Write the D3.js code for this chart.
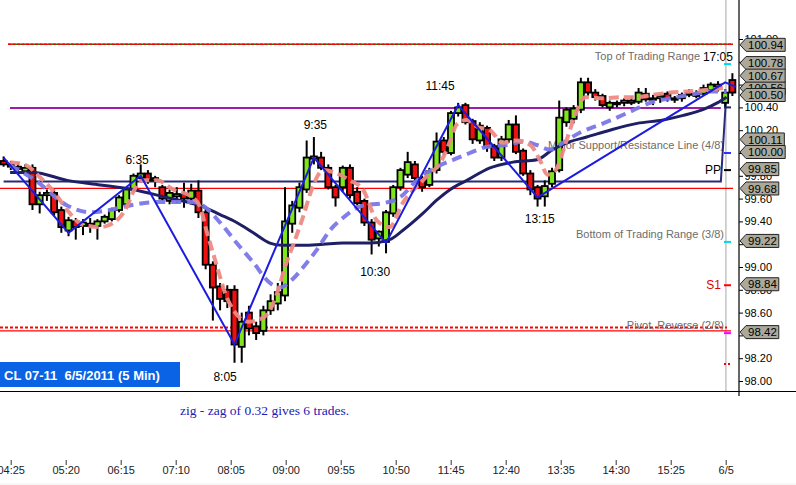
<!DOCTYPE html>
<html>
<head>
<meta charset="utf-8">
<script src="https://cdn.jsdelivr.net/npm/d3@7"></script>
<style>
  body { margin: 0; background: #fff; }
  svg { display: block; font-family: "Liberation Sans", Arial, sans-serif; }
</style>
</head>
<body>
<div class="chart"></div>
<script>
"use strict";

// DATA ----------------------------
// 5 min candles, CL 07-11
const opens = [99.93,99.90,99.86,99.84,99.87,99.55,99.63,99.65,99.50,99.32, 99.40,99.36,99.38,99.36,99.40,99.42,99.50,99.55,99.68,99.78,
  99.82,99.76,99.70,99.58,99.62,99.64,99.60,99.67,99.48,99.02, 98.83,98.80,98.80,98.30,98.60,98.48,98.44,98.62,98.68,98.75,
  99.38,99.52,99.68,99.95,99.96,99.87,99.70,99.70,99.87,99.66, 99.58,99.39,99.25,99.22,99.47,99.70,99.81,99.90,99.78,99.72,
  99.85,100.11,100.00,100.35,100.42,100.28,100.11,100.22,100.06,99.96, 100.12,100.25,100.02,99.82,99.70,99.62,99.73,99.85,100.27,100.30,
  100.38,100.62,100.53,100.50,100.40,100.43,100.44,100.46,100.45,100.52, 100.47,100.48,100.52,100.48,100.48,100.51,100.52,100.52,100.55,100.58,
  100.44,100.64];
const highs = [99.97,99.93,99.92,99.90,99.90,99.66,99.68,99.68,99.53,99.44, 99.43,99.42,99.43,99.42,99.46,99.52,99.63,99.70,99.82,99.90,
  99.85,99.80,99.72,99.68,99.70,99.74,99.73,99.76,99.52,99.05, 98.86,98.84,98.84,98.60,98.66,98.52,98.66,98.76,98.86,99.70,
  99.58,99.74,100.11,100.14,100.01,99.90,99.72,99.89,99.90,99.70, 99.60,99.42,99.32,99.50,99.72,99.87,100.01,99.93,99.80,99.87,
  100.18,100.14,100.37,100.44,100.44,100.30,100.27,100.24,100.08,100.15, 100.29,100.33,100.04,99.85,99.72,99.76,99.87,100.46,100.40,100.42,
  100.66,100.66,100.56,100.52,100.46,100.46,100.48,100.50,100.57,100.57, 100.51,100.52,100.54,100.50,100.53,100.56,100.55,100.60,100.62,100.63,
  100.56,100.70];
const lows = [99.88,99.85,99.84,99.82,99.50,99.47,99.58,99.45,99.30,99.27, 99.24,99.28,99.30,99.24,99.38,99.40,99.48,99.53,99.66,99.75,
  99.73,99.70,99.58,99.55,99.56,99.52,99.55,99.43,98.98,98.53, 98.62,98.64,98.16,98.16,98.40,98.36,98.40,98.58,98.62,98.70,
  99.30,99.48,99.65,99.90,99.85,99.68,99.53,99.66,99.60,99.54, 99.36,99.11,99.18,99.12,99.44,99.67,99.78,99.74,99.66,99.70,
  99.82,99.98,99.98,100.32,100.25,100.08,100.08,100.01,99.93,99.93, 100.09,99.99,99.80,99.63,99.53,99.53,99.70,99.83,100.23,100.26,
  100.35,100.50,100.46,100.40,100.37,100.40,100.41,100.42,100.43,100.45, 100.42,100.44,100.45,100.44,100.45,100.49,100.48,100.50,100.53,100.54,
  100.40,100.50];
const closes = [99.90,99.88,99.88,99.87,99.55,99.63,99.65,99.48,99.35,99.41, 99.35,99.39,99.36,99.40,99.44,99.50,99.61,99.68,99.80,99.82,
  99.76,99.78,99.60,99.65,99.64,99.60,99.67,99.48,99.02,98.82, 98.72,98.70,98.32,98.52,98.46,98.42,98.62,98.70,98.78,99.40,
  99.54,99.70,99.96,99.97,99.87,99.70,99.61,99.87,99.63,99.56, 99.39,99.24,99.31,99.48,99.70,99.85,99.92,99.78,99.70,99.84,
  100.10,100.01,100.35,100.40,100.27,100.12,100.24,100.05,99.96,100.12, 100.25,100.01,99.82,99.68,99.60,99.71,99.84,100.31,100.38,100.39,
  100.62,100.53,100.49,100.42,100.44,100.44,100.46,100.44,100.53,100.47, 100.48,100.50,100.48,100.47,100.51,100.53,100.50,100.57,100.60,100.60,
  100.53,100.53];

// moving averages, read at bar positions
const fastIdx = [0.9,3.2,5.0,7.1,8.8,11.0,13.4,15.7,17.1,17.9,19.3,21.3,23.5,26.2,27.2,28.2,29.6,30.7,32.1,33.9,35.5,36.9,37.9,39.0,40.4,41.5,42.7,44.3,46.2,48.0,
  49.8,51.7,53.5,55.3,58.1,60.9,61.9,62.8,64.2,65.6,67.4,69.2,71.1,73.0,74.3,75.4,76.5,77.8,79.2,80.6,83.1,85.4,87.8,90.0,92.4,94.7,96.9,99.7];
const fastVal = [99.92,99.89,99.79,99.65,99.50,99.37,99.35,99.41,99.53,99.65,99.76,99.76,99.68,99.61,99.53,99.30,99.00,98.77,98.60,98.52,98.54,98.62,98.77,99.00,99.24,99.44,99.68,99.85,99.82,99.76,
  99.68,99.41,99.35,99.56,99.76,99.96,100.11,100.25,100.29,100.23,100.20,100.09,100.11,100.07,99.94,99.81,99.85,100.07,100.33,100.49,100.48,100.49,100.49,100.51,100.53,100.54,100.55,100.57];
const midIdx = [0.9,4.4,8.8,12.0,14.7,17.5,21.3,26.2,27.6,30.0,32.3,34.6,36.9,38.3,40.0,41.8,43.4,45.2,47.0,49.8,
  52.6,54.9,57.3,60.1,62.3,64.6,67.4,69.8,72.0,73.9,75.7,77.5,79.9,83.1,86.4,89.6,92.4,95.1,97.9,100.2];
const midVal = [99.89,99.76,99.54,99.48,99.50,99.54,99.57,99.57,99.54,99.39,99.21,99.04,98.86,98.82,98.89,99.02,99.15,99.32,99.43,99.54,
  99.56,99.61,99.76,99.88,99.94,100.00,100.06,100.07,100.10,100.07,100.03,100.09,100.18,100.26,100.35,100.44,100.48,100.51,100.54,100.54];
const slowIdx = [0.9,4.1,8.8,13.4,17.9,22.6,25.4,27.6,30.0,32.3,34.6,36.9,38.7,41.5,44.3,47.0,50.8,53.5,
  55.3,58.1,60.1,61.9,64.2,67.4,70.6,73.9,76.1,78.5,80.8,84.0,87.8,91.4,94.2,96.9,98.9,100.2];
const slowVal = [99.83,99.83,99.76,99.72,99.68,99.61,99.57,99.53,99.46,99.39,99.30,99.21,99.19,99.19,99.20,99.21,99.21,99.24,
  99.32,99.47,99.59,99.68,99.76,99.87,99.92,99.94,100.03,100.10,100.14,100.20,100.26,100.29,100.33,100.38,100.44,100.49];

// zig-zag
const zzIdx = [0, 9, 19, 32, 43, 53, 63, 74, 100, 101.5];
const zzVal = [99.96, 99.30, 99.80, 98.32, 99.96, 99.21, 100.42, 99.61, 100.62, 100.58];

// swing labels
const swingNames = ["6:35", "8:05", "9:35", "10:30", "11:45", "13:15", "17:05"];
const swingIdx = [18.5, 30.7, 43.2, 51.5, 60.5, 74.3, 99.0];
const swingPrice = [99.94, 98.04, 100.25, 98.96, 100.59, 99.42, 100.84];

// step line (prior close)
const stepIdx = [0, 99.4, 100.1];
const stepVal = [99.75, 99.75, 100.46];

// horizontal levels
const hLinePrices = [100.955, 100.395, 99.69, 98.47, 98.44];

// murray math texts
const levelTexts = ["Top of Trading Range", "Major Support/Resistance Line (4/8)", "Bottom of Trading Range (3/8)", "Pivot, Reverse (2/8)"];
const levelPrices = [100.78, 100.00, 99.22, 98.42];

// pivot texts
const pivotTexts = ["PP", "S1"];
const pivotPrices = [99.85, 98.84];

// small markers at right
const markerPrices = [100.78, 100.40, 100.00, 99.85, 99.22, 98.84, 98.42, 98.15];

// price tags on axis
const tagValues = [100.56, 100.94, 100.78, 100.67, 100.50, 100.11, 100.00, 99.85, 99.68, 99.22, 98.84, 98.42];

// bottom time axis
const timeTicks = ["04:25", "05:20", "06:15", "07:10", "08:05", "09:00", "09:55", "10:50", "11:45", "12:40", "13:35", "14:30", "15:25", "6/5"];

const cursorIdx = 100.1;

// CHART INIT ----------------------------
const W = 796, H = 485;
const AXIS_X = 739;

const svg = d3.select(".chart").append("svg")
  .attr("width", W).attr("height", H);

const x = d3.scaleLinear().domain([-0.5, opens.length - 0.5]).range([0, 736]);
const y = d3.scaleLinear().domain([98, 101]).range([381, 39]);

const candles = opens.map((o, i) => ({ i, o, h: highs[i], l: lows[i], c: closes[i] }));
const pts = (xs, vs) => xs.map((d, i) => [d, vs[i]]);

const line = d3.line().x((d) => x(d[0])).y((d) => y(d[1]));
const smooth = d3.line().x((d) => x(d[0])).y((d) => y(d[1])).curve(d3.curveMonotoneX);

// gray cursor line
svg.append("line")
  .attr("x1", x(cursorIdx)).attr("x2", x(cursorIdx))
  .attr("y1", 0).attr("y2", 392)
  .attr("stroke", "#c4c4c4").attr("stroke-width", 1.5);

// horizontal levels
const hl = svg.append("g").attr("class", "levels");
// top dotted (green under red)
hl.append("line").attr("x1", 8).attr("x2", 733)
  .attr("y1", y(hLinePrices[0])).attr("y2", y(hLinePrices[0]))
  .attr("stroke", "#3c6a10").attr("stroke-width", 1.5);
hl.append("line").attr("x1", 8).attr("x2", 733)
  .attr("y1", y(hLinePrices[0])).attr("y2", y(hLinePrices[0]))
  .attr("stroke", "#ff0000").attr("stroke-width", 1.5).attr("stroke-dasharray", "3,1.5");
hl.append("line").attr("x1", 10).attr("x2", x(99.4))
  .attr("y1", y(hLinePrices[1])).attr("y2", y(hLinePrices[1]))
  .attr("stroke", "#a01ca8").attr("stroke-width", 2);
hl.append("line").attr("x1", 0).attr("x2", 733)
  .attr("y1", y(hLinePrices[2])).attr("y2", y(hLinePrices[2]))
  .attr("stroke", "#ff0000").attr("stroke-width", 1.2);
hl.append("line").attr("x1", 0).attr("x2", 727)
  .attr("y1", y(hLinePrices[3])).attr("y2", y(hLinePrices[3]))
  .attr("stroke", "#ff0000").attr("stroke-width", 2).attr("stroke-dasharray", "3,2");
hl.append("line").attr("x1", 0).attr("x2", 731)
  .attr("y1", y(hLinePrices[4])).attr("y2", y(hLinePrices[4]))
  .attr("stroke", "#ff0000").attr("stroke-width", 1.2);

// murray texts (under candles)
svg.append("g").selectAll("text")
  .data(levelTexts).join("text")
  .attr("x", (d, i) => (i === 0 ? 700 : 724))
  .attr("y", (d, i) => y(levelPrices[i]) - 4)
  .attr("text-anchor", "end")
  .attr("font-size", 11)
  .attr("fill", "#6c6c6c")
  .text((d) => d);

// step line
svg.append("path")
  .attr("d", line(pts(stepIdx, stepVal)))
  .attr("fill", "none").attr("stroke", "#2a2a78").attr("stroke-width", 2);

// candles
const cg = svg.append("g").attr("class", "candles")
  .selectAll("g").data(candles).join("g");
cg.append("line")
  .attr("x1", (d) => x(d.i)).attr("x2", (d) => x(d.i))
  .attr("y1", (d) => y(d.h)).attr("y2", (d) => y(d.l))
  .attr("stroke", "#000").attr("stroke-width", 2);
cg.append("rect")
  .attr("x", (d) => x(d.i) - 3)
  .attr("width", 6)
  .attr("y", (d) => y(Math.max(d.o, d.c)))
  .attr("height", (d) => Math.max(1.5, Math.abs(y(d.o) - y(d.c))))
  .attr("fill", (d) => (d.c >= d.o ? "#7fe61c" : "#ee1010"))
  .attr("stroke", "#000").attr("stroke-width", 1.8);

// moving averages
svg.append("path").attr("d", smooth(pts(slowIdx, slowVal)))
  .attr("fill", "none").attr("stroke", "#1f1f66").attr("stroke-width", 3);
svg.append("path").attr("d", smooth(pts(midIdx, midVal)))
  .attr("fill", "none").attr("stroke", "#7a76e8").attr("stroke-width", 4)
  .attr("stroke-dasharray", "10,6").attr("opacity", 0.95);
svg.append("path").attr("d", smooth(pts(fastIdx, fastVal)))
  .attr("fill", "none").attr("stroke", "#ee8a84").attr("stroke-width", 4)
  .attr("stroke-dasharray", "10,5").attr("opacity", 0.95);

// zig-zag
svg.append("path").attr("d", line(pts(zzIdx, zzVal)))
  .attr("fill", "none").attr("stroke", "#1c1ce0").attr("stroke-width", 2);

// swing labels
svg.append("g").selectAll("text")
  .data(swingNames).join("text")
  .attr("x", (d, i) => x(swingIdx[i]))
  .attr("y", (d, i) => y(swingPrice[i]))
  .attr("dy", "0.35em")
  .attr("text-anchor", "middle")
  .attr("font-size", 12)
  .attr("fill", "#000")
  .text((d) => d);

// pivot texts
svg.append("g").selectAll("text")
  .data(pivotTexts).join("text")
  .attr("x", 721)
  .attr("y", (d, i) => y(pivotPrices[i]))
  .attr("dy", "0.35em")
  .attr("text-anchor", "end")
  .attr("font-size", 12)
  .attr("fill", (d, i) => (i === 0 ? "#000" : "#e00000"))
  .text((d) => d);

// right markers
const markerColors = ["#00d8e8", "#1f1f66", "#3030ff", "#000000", "#00d8e8", "#ff0000", "#ff00ff", "#ff0000"];
svg.append("g").selectAll("line")
  .data(markerPrices).join("line")
  .attr("x1", 724).attr("x2", 731)
  .attr("y1", (d) => y(d)).attr("y2", (d) => y(d))
  .attr("stroke", (d, i) => markerColors[i])
  .attr("stroke-width", 2)
  .attr("stroke-dasharray", (d, i) => (i === 7 ? "2,2" : null));

// price axis
const yAxis = d3.axisRight(y)
  .ticks(15)
  .tickFormat(d3.format(".2f"))
  .tickSize(4)
  .tickPadding(1.5);
const yGroup = svg.append("g")
  .attr("class", "y-axis")
  .attr("transform", `translate(${AXIS_X},0)`)
  .call(yAxis);
yGroup.select(".domain").remove();
yGroup.selectAll("text").attr("font-size", 11).attr("fill", "#000")
  .attr("font-family", "'Liberation Sans', Arial, sans-serif");
yGroup.selectAll("line").attr("stroke", "#000");
svg.append("line")
  .attr("x1", AXIS_X).attr("x2", AXIS_X).attr("y1", 0).attr("y2", 396)
  .attr("stroke", "#000").attr("stroke-width", 1.2);

// price tags
const tags = svg.append("g").attr("class", "tags")
  .selectAll("g").data(tagValues).join("g")
  .attr("transform", (d) => `translate(${AXIS_X + 1},${y(d) - 1})`);
const tagPath = tags.append("path");
const tagText = tags.append("text")
  .attr("x", 8)
  .attr("dy", "0.36em")
  .attr("font-size", 11.5)
  .attr("fill", "#000")
  .text((d) => d3.format(".2f")(d));
tagText.each(function () {
  const w = this.getComputedTextLength() + 10;
  d3.select(this.parentNode).select("path")
    .attr("d", `M0,0 L6,-6.5 L${w},-6.5 L${w},6.5 L6,6.5 Z`);
});
tagPath.attr("fill", "#aca99c").attr("stroke", "#222").attr("stroke-width", 1);

// separator line
svg.append("line")
  .attr("x1", 0).attr("x2", W).attr("y1", 391.5).attr("y2", 391.5)
  .attr("stroke", "#000").attr("stroke-width", 1.2);

// title box
svg.append("rect")
  .attr("x", 0).attr("y", 362).attr("width", 180).attr("height", 25)
  .attr("fill", "#0a62e4");
svg.append("text")
  .attr("x", 4).attr("y", 380)
  .attr("font-size", 13).attr("font-weight", "bold")
  .attr("fill", "#fff")
  .style("white-space", "pre")
  .text("CL 07-11  6/5/2011 (5 Min)");

// zig-zag note
svg.append("text")
  .attr("x", 180).attr("y", 415)
  .attr("font-family", "'Liberation Serif', 'DejaVu Serif', serif")
  .attr("font-size", 13.5)
  .attr("fill", "#2020b4")
  .text("zig - zag of 0.32 gives 6 trades.");

// time axis
const xTime = d3.scalePoint().domain(timeTicks).range([10.7, 725.7]);
const xAxis = d3.axisBottom(xTime).tickSize(5).tickPadding(1).tickSizeOuter(0);
const xGroup = svg.append("g")
  .attr("class", "x-axis")
  .attr("transform", "translate(0,460)")
  .call(xAxis);
xGroup.select(".domain").remove();
xGroup.selectAll("line").attr("stroke", "#333");
xGroup.selectAll("text").attr("font-size", 11).attr("fill", "#222")
  .attr("font-family", "'Liberation Sans', Arial, sans-serif");

svg.append("line")
  .attr("x1", 0).attr("x2", W).attr("y1", 484).attr("y2", 484)
  .attr("stroke", "#f0f0ea").attr("stroke-width", 1);
</script>
</body>
</html>
